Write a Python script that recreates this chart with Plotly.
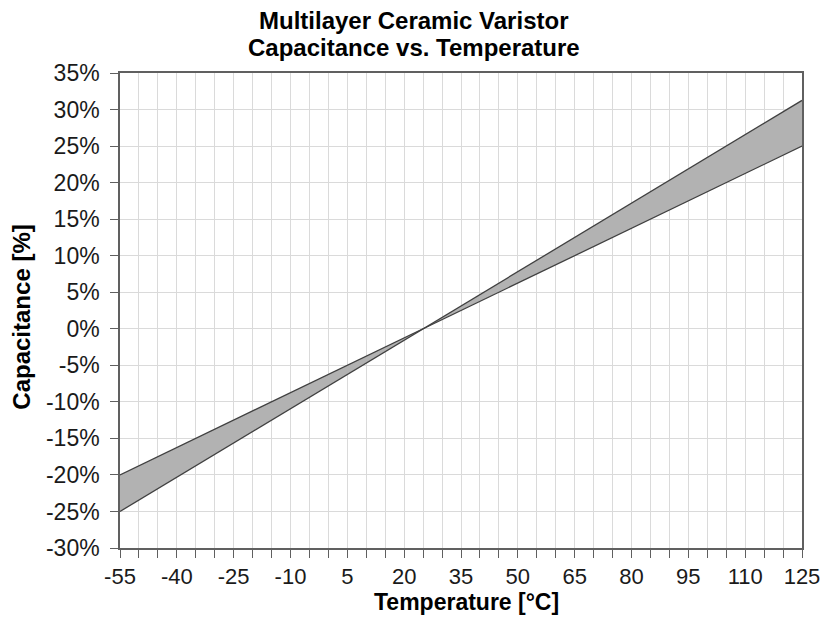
import plotly.graph_objects as go

temps = [-55, 25, 125]
line_a = [-20, 0, 25]        # % (upper at -55 °C)
line_b = [-25, 0, 31.25]     # % (upper at 125 °C)
x_tick_vals = list(range(-55, 126, 5))
x_tick_labels = [str(v) if (v + 55) % 15 == 0 else "" for v in x_tick_vals]
y_tick_vals = list(range(-30, 36, 5))
y_tick_labels = [f"{v}%" for v in y_tick_vals]
title_lines = ["Multilayer Ceramic Varistor", "Capacitance vs. Temperature"]

fig = go.Figure()
fig.add_trace(go.Scatter(x=temps, y=line_a, mode="lines",
                         line=dict(color="#404040", width=1.3), showlegend=False))
fig.add_trace(go.Scatter(x=temps, y=line_b, mode="lines", fill="tonexty",
                         fillcolor="#b2b2b2",
                         line=dict(color="#404040", width=1.3), showlegend=False))

ff = "Liberation Sans, Arial, sans-serif"
axis_common = dict(showgrid=True, gridcolor="#dadada", gridwidth=1,
                   showline=True, linecolor="#606060", linewidth=1.5, mirror=True,
                   ticks="outside", ticklen=8, tickcolor="#606060", tickwidth=1.3,
                   zeroline=False, automargin=False)
fig.update_layout(
    width=823, height=619,
    margin=dict(l=120, r=21, t=73, b=71),
    paper_bgcolor="white", plot_bgcolor="white",
    xaxis=dict(range=[-55, 125], tickvals=x_tick_vals, ticktext=x_tick_labels,
               ticklabelstandoff=0,
               tickfont=dict(family=ff, size=22, color="#1a1a1a"), **axis_common),
    yaxis=dict(range=[-30, 35], tickvals=y_tick_vals, ticktext=y_tick_labels,
               ticklabelstandoff=6,
               tickfont=dict(family=ff, size=23, color="#1a1a1a"), **axis_common),
    annotations=[
        dict(text=title_lines[0], xref="paper", yref="paper", x=0.431, y=1.1095,
             xanchor="center", yanchor="middle", showarrow=False,
             font=dict(family=ff, size=24, color="#000", weight="bold")),
        dict(text=title_lines[1], xref="paper", yref="paper", x=0.431, y=1.0537,
             xanchor="center", yanchor="middle", showarrow=False,
             font=dict(family=ff, size=24, color="#000", weight="bold")),
        dict(text="Temperature [°C]", xref="paper", yref="paper", x=0.508, y=-0.1147,
             xanchor="center", yanchor="middle", showarrow=False,
             font=dict(family=ff, size=23, color="#000", weight="bold")),
        dict(text="Capacitance [%]", xref="paper", yref="paper", x=-0.1444, y=0.486,
             xanchor="center", yanchor="middle", showarrow=False, textangle=-90,
             font=dict(family=ff, size=24, color="#000", weight="bold")),
    ],
)
fig.write_html("out.html", config={"displayModeBar": False},
               post_script="document.body.style.margin='0';")
